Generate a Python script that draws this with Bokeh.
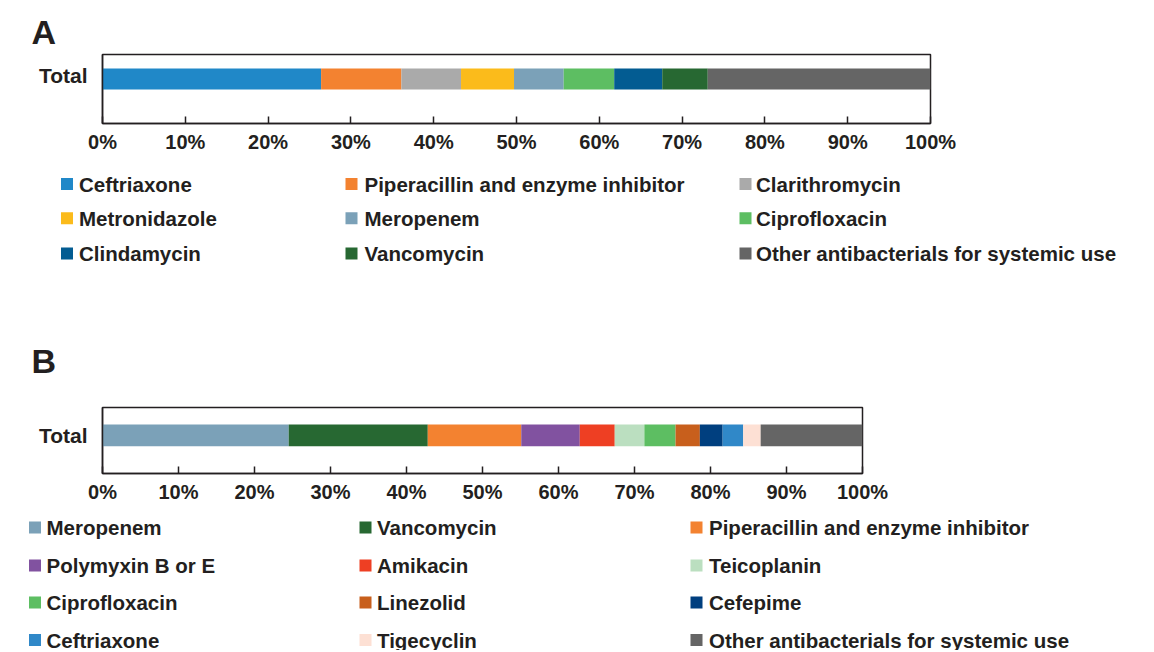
import numpy as np
from bokeh.plotting import figure
from bokeh.layouts import column
from bokeh.models import Range1d, FixedTicker, ColumnDataSource
from bokeh.core.properties import value
from bokeh.embed import file_html
from bokeh.resources import INLINE

# ---------------- data ----------------
category = "Total"

a_drugs = ["Ceftriaxone", "Piperacillin and enzyme inhibitor", "Clarithromycin",
           "Metronidazole", "Meropenem", "Ciprofloxacin",
           "Clindamycin", "Vancomycin", "Other antibacterials for systemic use"]
a_share = [26.4, 9.7, 7.2, 6.4, 6.0, 6.1, 5.8, 5.5, 26.9]
a_colors = ["#2088C8", "#F38230", "#AAAAAA",
            "#FBBB1B", "#7BA1B8", "#5DBE62",
            "#035C92", "#276832", "#656565"]

b_drugs = ["Meropenem", "Vancomycin", "Piperacillin and enzyme inhibitor",
           "Polymyxin B or E", "Amikacin", "Teicoplanin",
           "Ciprofloxacin", "Linezolid", "Cefepime",
           "Ceftriaxone", "Tigecyclin", "Other antibacterials for systemic use"]
b_share = [24.5, 18.3, 12.3, 7.7, 4.6, 3.9, 4.1, 3.2, 3.0, 2.7, 2.3, 13.4]
b_colors = ["#7BA1B8", "#276832", "#F38230",
            "#8152A0", "#EE3F23", "#BBDFC0",
            "#5DBE62", "#C85F1C", "#003F7F",
            "#3088C8", "#FDE0D4", "#656565"]

x_ticks = [0, 10, 20, 30, 40, 50, 60, 70, 80, 90, 100]
x_tick_labels = ["0%", "10%", "20%", "30%", "40%", "50%", "60%", "70%", "80%", "90%", "100%"]

# ---------------- style ----------------
FONT = "Liberation Sans"
INK = "#231F20"
W = 1150


def bar_panel(share, colors, height, border_top, frame_h, frame_w, bar_c, bar_h, tick_y):
    p = figure(width=W, height=height, x_range=Range1d(0, 100), y_range=Range1d(0, 1),
               output_backend="svg", toolbar_location=None, frame_align=False,
               min_border_left=102, min_border_right=W - 102 - frame_w,
               min_border_top=border_top, min_border_bottom=height - border_top - frame_h)
    s = np.array(share, dtype=float)
    right = np.cumsum(s)
    left = right - s
    src = ColumnDataSource(dict(left=left, right=right, color=colors))
    p.hbar(y=bar_c, left="left", right="right", height=bar_h, fill_color="color",
           line_color=None, source=src)
    p.xgrid.grid_line_color = None
    p.ygrid.grid_line_color = None
    p.outline_line_color = INK
    p.outline_line_width = 1.5
    p.outline_line_alpha = 1.0

    xa = p.xaxis[0]
    xa.ticker = FixedTicker(ticks=x_ticks)
    xa.major_label_overrides = {t: l for t, l in zip(x_ticks, x_tick_labels)}
    xa.major_tick_in = 7
    xa.major_tick_out = 0
    xa.major_tick_line_color = INK
    xa.major_tick_line_width = 1.5
    xa.minor_tick_line_color = None
    xa.axis_line_color = INK
    xa.axis_line_width = 1.5
    xa.major_label_text_font = FONT
    xa.major_label_text_font_style = "bold"
    xa.major_label_text_font_size = "20px"
    xa.major_label_text_color = INK
    xa.major_label_standoff = 7

    ya = p.yaxis[0]
    ya.ticker = FixedTicker(ticks=[tick_y])
    ya.major_label_overrides = {tick_y: category}
    ya.major_tick_in = 0
    ya.major_tick_out = 0
    ya.minor_tick_line_color = None
    ya.axis_line_color = INK
    ya.axis_line_width = 1.5
    ya.major_label_text_font = FONT
    ya.major_label_text_font_style = "bold"
    ya.major_label_text_font_size = "21px"
    ya.major_label_text_color = INK
    ya.major_label_standoff = 15
    return p


def blank(height):
    p = figure(width=W, height=height, x_range=Range1d(0, W), y_range=Range1d(height, 0),
               output_backend="svg", toolbar_location=None, frame_align=False,
               min_border=0, min_border_left=0, min_border_right=0,
               min_border_top=0, min_border_bottom=0)
    p.axis.visible = False
    p.xgrid.visible = False
    p.ygrid.visible = False
    p.outline_line_color = None
    return p


def add_header(p, letter, x, y):
    p.text(x=[x], y=[y], text=[letter], text_font=value(FONT), text_font_style="bold",
           text_font_size="34px", text_baseline="middle", text_align="left", text_color=INK)


def add_legend(p, names, colors, sq_x, tx_x, rows_y):
    n = len(names)
    cols = [i % 3 for i in range(n)]
    rows = [i // 3 for i in range(n)]
    sx = [sq_x[c] for c in cols]
    tx = [tx_x[c] for c in cols]
    ys = [rows_y[r] for r in rows]
    src = ColumnDataSource(dict(sx=sx, tx=tx, y=ys, name=names, color=colors))
    p.scatter(x="sx", y="y", marker="square", size=12, fill_color="color",
              line_color=None, source=src)
    p.text(x="tx", y="y", text="name", text_font=value(FONT), text_font_style="bold",
           text_font_size="20.5px", text_baseline="middle", text_align="left",
           text_color=INK, source=src)


# header A (page y 0-50)
headA = blank(50)
add_header(headA, "A", 31, 31)

# panel A (page y 50-165)
figA = bar_panel(a_share, a_colors, height=115, border_top=4, frame_h=69, frame_w=828,
                 bar_c=0.645, bar_h=0.304, tick_y=0.70)

# legend A + header B (page y 165-395)
legA = blank(230)
add_legend(legA, a_drugs, a_colors, sq_x=[66.5, 351, 745], tx_x=[78.5, 364, 755.5],
           rows_y=[18.5, 52.8, 88])
add_header(legA, "B", 31, 195)

# panel B (page y 395-510)
figB = bar_panel(b_share, b_colors, height=115, border_top=12, frame_h=66, frame_w=760,
                 bar_c=0.578, bar_h=0.328, tick_y=0.578)

# legend B (page y 510-650)
legB = blank(140)
add_legend(legB, b_drugs, b_colors, sq_x=[34.5, 365, 696], tx_x=[46, 376.5, 708.5],
           rows_y=[17, 55, 92, 129.5])

layout = column(headA, figA, legA, figB, legB, spacing=0)

html = file_html(layout, INLINE)
open("out.html", "w").write(html)
